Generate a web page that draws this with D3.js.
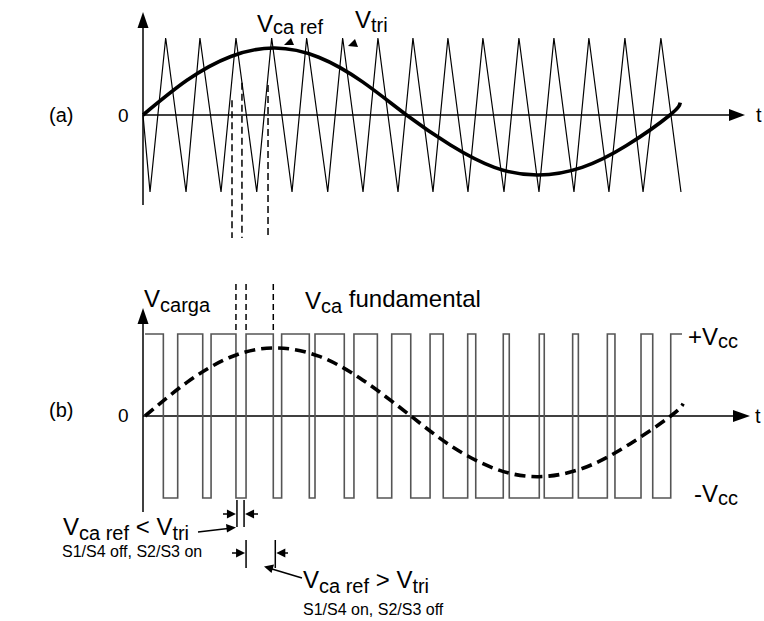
<!DOCTYPE html>
<html><head><meta charset="utf-8">
<script src="https://cdn.jsdelivr.net/npm/d3@7"></script>
<style>
body{margin:0;background:#fff}
svg{display:block;font-family:Arial,"Liberation Sans",sans-serif}
</style></head><body>
<svg id="c" width="764" height="621"></svg>
<script>
// ---------- DATA (angles in degrees of the fundamental) ----------
// (a) reference sine V_ca ref, normalised to triangle amplitude
const refAngles = [0,30,60,90,120,150,180,210,240,270,300,330,360,367];
const refValues = [0,0.45,0.76,0.87,0.75,0.43,0,-0.39,-0.68,-0.78,-0.68,-0.40,0,0.16];
// (a) triangular carrier V_tri: vertex times and values
const triTimes  = [0,4.8,15.5,29.4,38.9,53.3,63.5,77.7,87.9,101.8,111.8,126.2,136.4,150.3,160.5,174.2,184.4,198.1,208.3,222.0,232.2,246.6,256.8,270.5,280.7,294.4,304.6,318.3,329.2,341.6,353.8,367.5];
const triValues = [0,-1,1,-1,1,-1,1,-1,1,-1,1,-1,1,-1,1,-1,1,-1,1,-1,1,-1,1,-1,1,-1,1,-1,1,-1,1,-1];
// (a) dashed switching markers
const markA = [60.8,67.6,85.4];
const markATop = [0.19,0.42,0.39];
// (b) fundamental of V_carga, normalised to Vcc
const fundAngles = [1.4,30,60,90,120,150,183,210,240,270,300,330,360.5,369];
const fundValues = [0,0.41,0.72,0.83,0.73,0.44,0,-0.36,-0.64,-0.74,-0.64,-0.37,0,0.15];
// (b) PWM output: switching instants and level of each segment
const pwmEdges  = [1.4,13.9,23.7,40.8,46.5,63.5,70.4,89.0,94.7,113.6,117.5,137.5,144.1,160.1,169.9,182.9,196.1,205.1,221.8,227.3,246.1,250.2,270.7,274.1,293.5,297.4,317.2,322.4,340.2,348.2,360.5,368.2];
const pwmLevels = [1,-1,1,-1,1,-1,1,-1,1,-1,1,-1,1,-1,1,-1,1,-1,1,-1,1,-1,1,-1,1,-1,1,-1,1,-1,1];
// (b) markers: indices into pwmEdges
const markB = [5,6,7];

// ---------- LAYOUT ----------
const svg = d3.select("#c");
const x = d3.scaleLinear().domain([0,360]).range([143,670]);
const ya = d3.scaleLinear().domain([-1,1]).range([192,38]);
const yb = d3.scaleLinear().domain([-1,1]).range([498,334]);

function arrowHead(g, tipX, tipY, dir, len, half){
  let pts;
  if(dir==="up") pts=[[tipX,tipY],[tipX-half,tipY+len],[tipX+half,tipY+len]];
  else if(dir==="right") pts=[[tipX,tipY],[tipX-len,tipY-half],[tipX-len,tipY+half]];
  else if(dir==="left") pts=[[tipX,tipY],[tipX+len,tipY-half],[tipX+len,tipY+half]];
  g.append("path").attr("d","M"+pts.map(p=>p.join(",")).join("L")+"Z").attr("fill","#000");
}

// ---------- PANEL (a) ----------
const ga = svg.append("g");
ga.selectAll("line.ma").data(markA).join("line")
  .attr("x1",d=>x(d)).attr("x2",d=>x(d))
  .attr("y1",(d,i)=>ya(markATop[i])).attr("y2",238)
  .attr("stroke","#000").attr("stroke-width",1.5).attr("stroke-dasharray","7,4");
ga.append("line").attr("x1",143).attr("x2",143).attr("y1",205).attr("y2",20).attr("stroke","#000").attr("stroke-width",1.5);
arrowHead(ga,143,12,"up",16,5.5);
ga.append("line").attr("x1",143).attr("x2",735).attr("y1",ya(0)).attr("y2",ya(0)).attr("stroke","#000").attr("stroke-width",1.5);
arrowHead(ga,745,ya(0),"right",16,6);
ga.append("path").datum(triTimes.map((t,i)=>[t,triValues[i]]))
  .attr("d",d3.line().x(d=>x(d[0])).y(d=>ya(d[1])))
  .attr("fill","none").attr("stroke","#000").attr("stroke-width",1.2);
ga.append("path").datum(refAngles.map((t,i)=>[t,refValues[i]]))
  .attr("d",d3.line().curve(d3.curveNatural).x(d=>x(d[0])).y(d=>ya(d[1])))
  .attr("fill","none").attr("stroke","#000").attr("stroke-width",3.6);
ga.append("path").attr("d","M284,45L291,38L294,45Z").attr("fill","#000");
ga.append("path").attr("d","M348,46L355,39L358,47Z").attr("fill","#000");
ga.append("text").attr("x",49).attr("y",122).attr("font-size",20).text("(a)");
ga.append("text").attr("x",118).attr("y",122).attr("font-size",19).text("0");
ga.append("text").attr("x",756).attr("y",122).attr("font-size",20).text("t");
let t1 = ga.append("text").attr("x",257).attr("y",32).attr("font-size",24);
t1.append("tspan").text("V");
t1.append("tspan").attr("font-size",20).attr("dy",2).text("ca ref");
let t2 = ga.append("text").attr("x",355).attr("y",28).attr("font-size",24);
t2.append("tspan").text("V");
t2.append("tspan").attr("font-size",20).attr("dy",4).text("tri");

// ---------- PANEL (b) ----------
const gb = svg.append("g");
gb.selectAll("line.mb").data(markB).join("line")
  .attr("x1",d=>x(pwmEdges[d])).attr("x2",d=>x(pwmEdges[d]))
  .attr("y1",284).attr("y2",yb(1))
  .attr("stroke","#000").attr("stroke-width",1.5).attr("stroke-dasharray","6,4");
gb.append("line").attr("x1",143).attr("x2",143).attr("y1",512).attr("y2",316).attr("stroke","#000").attr("stroke-width",1.5);
arrowHead(gb,143,308,"up",16,5.5);
gb.append("line").attr("x1",143).attr("x2",740).attr("y1",yb(0)).attr("y2",yb(0)).attr("stroke","#000").attr("stroke-width",1.5);
arrowHead(gb,750,yb(0),"right",17,6);
const pwmPts = [];
pwmLevels.forEach((lv,i)=>{ pwmPts.push([pwmEdges[i],lv]); pwmPts.push([pwmEdges[i+1],lv]); });
gb.append("path").datum(pwmPts)
  .attr("d",d3.line().x(d=>x(d[0])).y(d=>yb(d[1])))
  .attr("fill","none").attr("stroke","#555").attr("stroke-width",1.6);
gb.append("path").datum(fundAngles.map((t,i)=>[t,fundValues[i]]))
  .attr("d",d3.line().curve(d3.curveNatural).x(d=>x(d[0])).y(d=>yb(d[1])))
  .attr("fill","none").attr("stroke","#000").attr("stroke-width",3.6).attr("stroke-dasharray","11,6");
gb.append("text").attr("x",49).attr("y",417).attr("font-size",20).text("(b)");
gb.append("text").attr("x",118).attr("y",422).attr("font-size",19).text("0");
gb.append("text").attr("x",755).attr("y",423).attr("font-size",20).text("t");
let t3 = gb.append("text").attr("x",144).attr("y",307).attr("font-size",24);
t3.append("tspan").text("V");
t3.append("tspan").attr("font-size",20).attr("dy",5).text("carga");
let t4 = gb.append("text").attr("x",305).attr("y",309).attr("font-size",24);
t4.append("tspan").text("V");
t4.append("tspan").attr("font-size",20).attr("dy",4).text("ca");
t4.append("tspan").attr("dy",-6).text(" fundamental");
let t5 = gb.append("text").attr("x",688).attr("y",345).attr("font-size",24);
t5.append("tspan").text("+V");
t5.append("tspan").attr("font-size",20).attr("dy",3).text("cc");
let t6 = gb.append("text").attr("x",694).attr("y",502).attr("font-size",24);
t6.append("tspan").text("-V");
t6.append("tspan").attr("font-size",20).attr("dy",3).text("cc");

// ---------- annotations below (b) ----------
const gc = svg.append("g");
const e0 = x(pwmEdges[markB[0]]), e1 = x(pwmEdges[markB[1]]), e2 = x(pwmEdges[markB[2]]);
[e0+1,e1-2].forEach(v=>gc.append("line").attr("x1",v).attr("x2",v).attr("y1",500).attr("y2",527).attr("stroke","#000").attr("stroke-width",1.5));
gc.append("line").attr("x1",223).attr("x2",e0-6).attr("y1",514).attr("y2",514).attr("stroke","#000").attr("stroke-width",1.5);
arrowHead(gc,e0,514,"right",9,4.5);
gc.append("line").attr("x1",258).attr("x2",e1+4).attr("y1",514).attr("y2",514).attr("stroke","#000").attr("stroke-width",1.5);
arrowHead(gc,e1-1,514,"left",9,4.5);
[e1,e2+2].forEach(v=>gc.append("line").attr("x1",v).attr("x2",v).attr("y1",540).attr("y2",568).attr("stroke","#000").attr("stroke-width",1.5));
gc.append("line").attr("x1",232).attr("x2",e1-6).attr("y1",553).attr("y2",553).attr("stroke","#000").attr("stroke-width",1.5);
arrowHead(gc,e1-1,553,"right",9,4.5);
gc.append("line").attr("x1",288).attr("x2",e2+8).attr("y1",553).attr("y2",553).attr("stroke","#000").attr("stroke-width",1.5);
arrowHead(gc,e2+3,553,"left",9,4.5);
gc.append("line").attr("x1",198).attr("y1",532).attr("x2",228).attr("y2",528.5).attr("stroke","#000").attr("stroke-width",1.5);
gc.append("path").attr("d","M236,527.5L226,524L227,532.5Z").attr("fill","#000");
gc.append("line").attr("x1",302).attr("y1",578).attr("x2",272).attr("y2",569).attr("stroke","#000").attr("stroke-width",1.5);
gc.append("path").attr("d","M264,566.5L274,564.5L271.5,573Z").attr("fill","#000");
let t7 = gc.append("text").attr("x",63).attr("y",535).attr("font-size",24);
t7.append("tspan").text("V");
t7.append("tspan").attr("font-size",20).attr("dy",5).text("ca ref");
t7.append("tspan").attr("dy",-5).text(" < V");
t7.append("tspan").attr("font-size",20).attr("dy",5).text("tri");
gc.append("text").attr("x",62).attr("y",557).attr("font-size",16).text("S1/S4 off, S2/S3 on");
let t8 = gc.append("text").attr("x",303).attr("y",588).attr("font-size",24);
t8.append("tspan").text("V");
t8.append("tspan").attr("font-size",20).attr("dy",5).text("ca ref");
t8.append("tspan").attr("dy",-5).text(" > V");
t8.append("tspan").attr("font-size",20).attr("dy",5).text("tri");
gc.append("text").attr("x",303).attr("y",615).attr("font-size",16).text("S1/S4 on, S2/S3 off");
</script>
</body></html>
